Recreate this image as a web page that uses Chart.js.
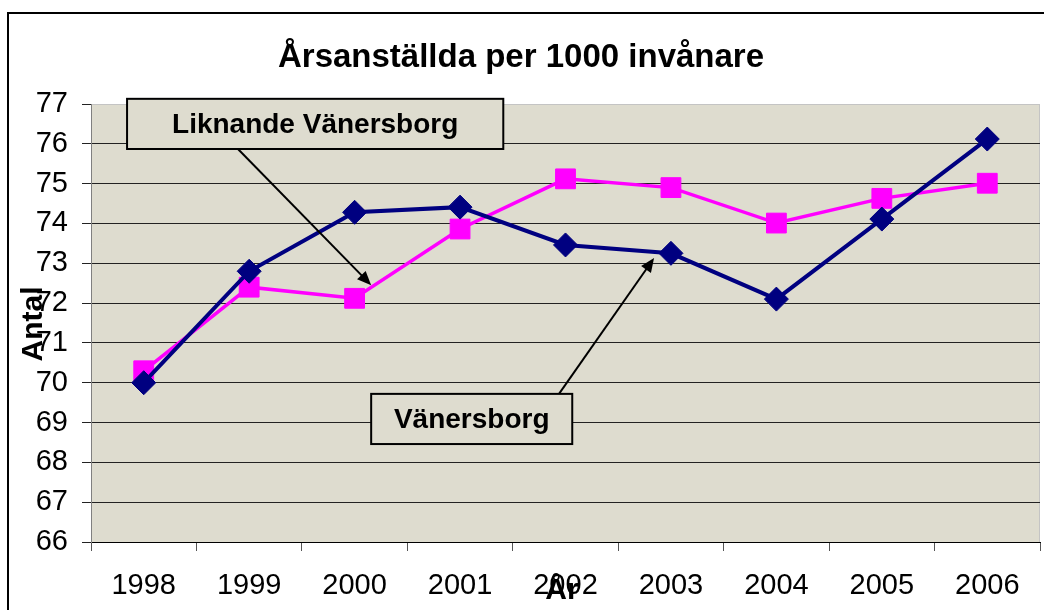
<!DOCTYPE html>
<html>
<head>
<meta charset="utf-8">
<script src="https://cdn.jsdelivr.net/npm/chart.js@4.4.1/dist/chart.umd.min.js"></script>
<style>
  html, body { margin: 0; padding: 0; background: #fff; }
  #wrap { width: 1044px; height: 610px; position: relative; }
</style>
</head>
<body>
<div id="wrap"><canvas id="chart" width="1044" height="610"></canvas></div>
<script>
const years = ['1998', '1999', '2000', '2001', '2002', '2003', '2004', '2005', '2006'];
const vanersborg = [70.0, 72.8, 74.28, 74.41, 73.46, 73.25, 72.1, 74.11, 76.12];
const liknande = [70.3, 72.4, 72.12, 73.86, 75.12, 74.9, 74.01, 74.63, 75.01];
const yMin = 66;
const yMax = 77;

// callouts, placed in axis units (category index, value)
const callouts = [
    { text: 'Liknande Vänersborg', box: [-0.158, 77.13, 3.41, 75.87], from: [0.838, 76.02], to: [2.157, 72.45] },
    { text: 'Vänersborg', box: [2.157, 69.72, 4.064, 68.46], from: [3.93, 69.69], to: [4.84, 73.13] }
];

const plotBg = '#dedccf';
const font = "'Liberation Sans', Arial, sans-serif";

const frame = {
    id: 'frame',
    beforeDraw(chart) {
        const c = chart.ctx;
        const a = chart.chartArea;
        c.save();
        c.fillStyle = '#fff';
        c.fillRect(0, 0, chart.width, chart.height);
        c.strokeStyle = '#000';
        c.lineWidth = 2;
        c.beginPath();
        c.moveTo(8, chart.height);
        c.lineTo(8, 13);
        c.lineTo(chart.width, 13);
        c.stroke();
        c.fillStyle = plotBg;
        c.fillRect(a.left, a.top, a.right - a.left, a.bottom - a.top);
        c.strokeStyle = '#c4c4c4';
        c.lineWidth = 1;
        c.strokeRect(a.left + 0.5, a.top + 0.5, a.right - a.left - 1, a.bottom - a.top);
        c.restore();
    },
    afterDraw(chart) {
        const c = chart.ctx;
        const xs = chart.scales.x;
        const ys = chart.scales.y;
        c.save();
        callouts.forEach(function(o) {
            const x1 = xs.getPixelForValue(o.box[0]);
            const y1 = ys.getPixelForValue(o.box[1]);
            const x2 = xs.getPixelForValue(o.box[2]);
            const y2 = ys.getPixelForValue(o.box[3]);
            const fx = xs.getPixelForValue(o.from[0]);
            const fy = ys.getPixelForValue(o.from[1]);
            const tx = xs.getPixelForValue(o.to[0]);
            const ty = ys.getPixelForValue(o.to[1]);
            const ang = Math.atan2(ty - fy, tx - fx);
            const hl = 14, hw = 6;
            c.strokeStyle = '#000';
            c.fillStyle = '#000';
            c.lineWidth = 2;
            c.beginPath();
            c.moveTo(fx, fy);
            c.lineTo(tx - Math.cos(ang) * hl * 0.8, ty - Math.sin(ang) * hl * 0.8);
            c.stroke();
            c.beginPath();
            c.moveTo(tx, ty);
            c.lineTo(tx - Math.cos(ang) * hl - Math.sin(ang) * hw, ty - Math.sin(ang) * hl + Math.cos(ang) * hw);
            c.lineTo(tx - Math.cos(ang) * hl + Math.sin(ang) * hw, ty - Math.sin(ang) * hl - Math.cos(ang) * hw);
            c.closePath();
            c.fill();
            c.fillStyle = plotBg;
            c.fillRect(x1, y1, x2 - x1, y2 - y1);
            c.strokeRect(x1, y1, x2 - x1, y2 - y1);
            c.fillStyle = '#000';
            c.font = 'bold 28px ' + font;
            c.textAlign = 'center';
            c.textBaseline = 'middle';
            c.fillText(o.text, (x1 + x2) / 2, (y1 + y2) / 2 + 1);
        });

        c.fillStyle = '#000';
        c.textAlign = 'center';
        c.textBaseline = 'alphabetic';
        c.font = 'bold 33px ' + font;
        c.fillText('Årsanställda per 1000 invånare', 521, 67);

        c.font = 'bold 30px ' + font;
        c.textBaseline = 'middle';
        c.fillText('År', 562, 591);
        c.translate(34, 324);
        c.rotate(-Math.PI / 2);
        c.fillText('Antal', 0, 0);
        c.restore();
    }
};

new Chart(document.getElementById('chart'), {
    type: 'line',
    data: {
        labels: years,
        datasets: [
            {
                label: 'Vänersborg',
                data: vanersborg,
                borderColor: '#000080',
                backgroundColor: '#000080',
                borderWidth: 4,
                pointStyle: 'rectRot',
                pointRadius: 12,
                pointBorderWidth: 1,
                tension: 0,
                fill: false
            },
            {
                label: 'Liknande Vänersborg',
                data: liknande,
                borderColor: '#ff00ff',
                backgroundColor: '#ff00ff',
                borderWidth: 3.5,
                pointStyle: 'rect',
                pointRadius: 14,
                pointBorderWidth: 1,
                tension: 0,
                fill: false
            }
        ]
    },
    options: {
        responsive: false,
        animation: false,
        layout: {
            autoPadding: false,
            padding: { top: 104, left: 0, right: 4, bottom: 0 }
        },
        plugins: {
            legend: { display: false },
            title: { display: false },
            tooltip: { enabled: false }
        },
        scales: {
            x: {
                offset: true,
                afterFit: function(scale) {
                    scale.height = 68;
                    scale.paddingLeft = 0;
                    scale.paddingRight = 0;
                },
                grid: {
                    offset: true,
                    drawOnChartArea: false,
                    drawTicks: true,
                    tickLength: 9,
                    color: '#555'
                },
                border: { display: true, color: '#000', width: 1 },
                ticks: {
                    color: '#000',
                    padding: 18,
                    font: { family: font, size: 29 }
                }
            },
            y: {
                min: yMin,
                max: yMax,
                afterFit: function(scale) {
                    scale.width = 91;
                    scale.paddingTop = 0;
                    scale.paddingBottom = 0;
                },
                grid: {
                    color: function(ctx) {
                        return ctx.tick && ctx.tick.value === yMax ? 'rgba(0,0,0,0)' : '#222';
                    },
                    tickColor: '#222',
                    tickLength: 9,
                    lineWidth: 1
                },
                border: { display: true, color: '#808080', width: 1 },
                ticks: {
                    stepSize: 1,
                    color: '#000',
                    padding: 14,
                    font: { family: font, size: 29 }
                }
            }
        }
    },
    plugins: [frame]
});
</script>
</body>
</html>
